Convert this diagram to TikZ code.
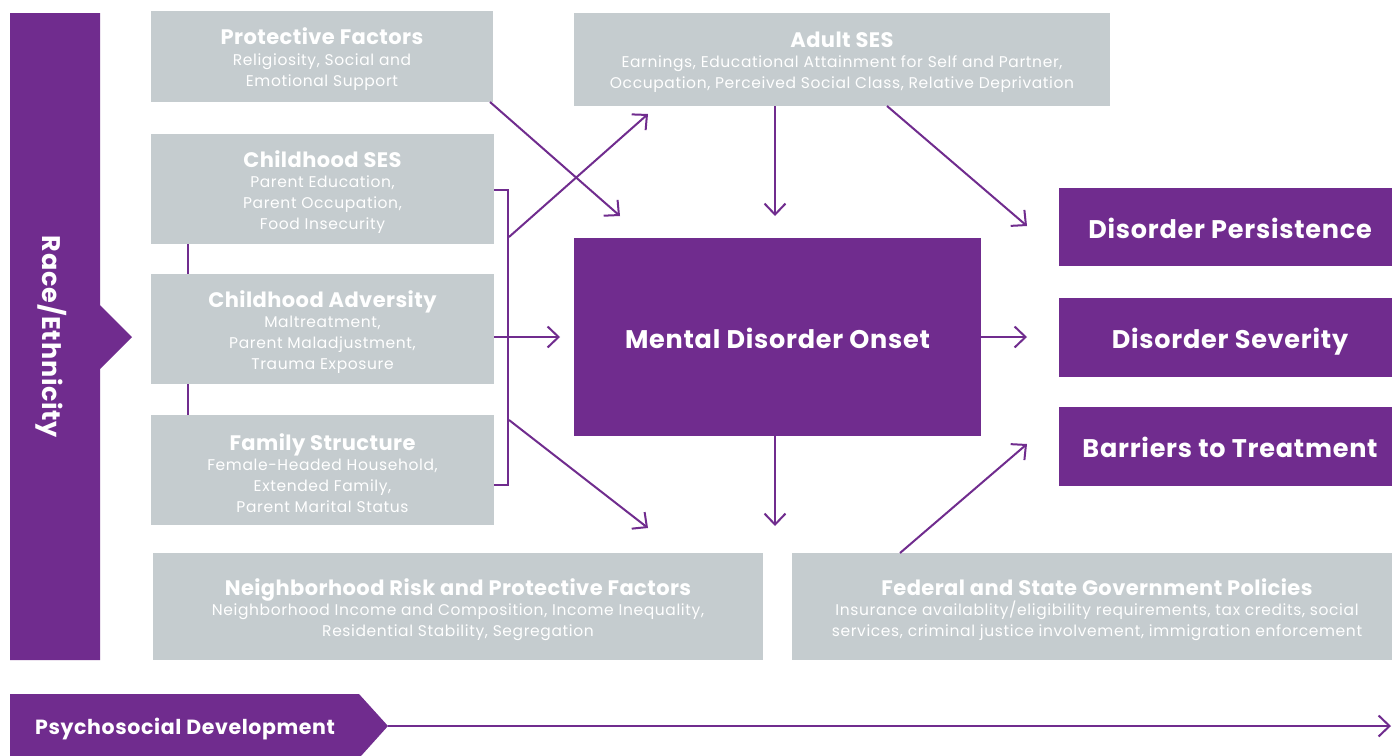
\documentclass[tikz,border=0pt]{standalone}
\usepackage{fontspec}
\setmainfont{Poppins}
\usetikzlibrary{arrows.meta}
\definecolor{purp}{RGB}{112,44,142}
\definecolor{boxgray}{RGB}{197,204,207}
\newcommand\ttl[1]{{\bfseries\fontsize{21}{21}\selectfont\addfontfeatures{LetterSpace=2}#1}}
\newcommand\bigbold{\bfseries\fontsize{25.5}{30}\selectfont\addfontfeatures{LetterSpace=3}}
\tikzset{
  graybox/.style={fill=boxgray, inner sep=0pt},
  boxtext/.style={inner sep=0pt, align=center, text=white,
    font=\fontsize{15.5}{21}\selectfont\addfontfeatures{LetterSpace=4}},
  purplebox/.style={fill=purp, inner sep=0pt, align=center, text=white,
    font=\bigbold, text height=22pt, text depth=0pt},
  conn/.style={draw=purp, line width=2pt},
  arr/.style={conn, -{Straight Barb[length=11pt,width=21pt]}},
}
\begin{document}
\begin{tikzpicture}[x=1pt,y=-1pt]
\useasboundingbox[fill=white] (0,0) rectangle (1392,755);

% Race/Ethnicity bar
\fill[purp] (10,13) -- (100,13) -- (100,305) -- (132,337) -- (100,369) -- (100,660) -- (10,660) -- cycle;
\node[text=white, font=\bigbold, rotate=-90] (race) at (51,337) {Race/Ethnicity};

% left gray boxes
\node[graybox, minimum width=342pt, minimum height=91pt] (pf) at (322,56.5) {};
\node[boxtext] (pfT) at ([yshift=-3pt]pf.center)
  {\ttl{Protective Factors}\\Religiosity, Social and\\Emotional Support};
\node[graybox, minimum width=343pt, minimum height=110pt] (ses) at (322.5,189) {};
\node[boxtext] (sesT) at ([yshift=-3.5pt]ses.center)
  {\ttl{Childhood SES}\\[-1pt]Parent Education,\\Parent Occupation,\\Food Insecurity};
\node[graybox, minimum width=343pt, minimum height=110pt] (adv) at (322.5,329) {};
\node[boxtext] (advT) at ([yshift=-3.5pt]adv.center)
  {\ttl{Childhood Adversity}\\[-1pt]Maltreatment,\\Parent Maladjustment,\\Trauma Exposure};
\node[graybox, minimum width=343pt, minimum height=110pt] (fam) at (322.5,470) {};
\node[boxtext] (famT) at ([yshift=-3.5pt]fam.center)
  {\ttl{Family Structure}\\[-1pt]Female-Headed Household,\\Extended Family,\\Parent Marital Status};

% top and bottom gray boxes
\node[graybox, minimum width=536pt, minimum height=93pt] (adult) at (842,59.5) {};
\node[boxtext] (adultT) at ([yshift=-3pt]adult.center)
  {\ttl{Adult SES}\\[-1pt]Earnings, Educational Attainment for Self and Partner,\\Occupation, Perceived Social Class, Relative Deprivation};
\node[graybox, minimum width=610pt, minimum height=107pt] (nbh) at (458,606.5) {};
\node[boxtext] (nbhT) at ([yshift=-3pt]nbh.center)
  {\ttl{Neighborhood Risk and Protective Factors}\\[-1pt]Neighborhood Income and Composition, Income Inequality,\\Residential Stability, Segregation};
\node[graybox, minimum width=610pt, minimum height=107pt] (fed) at (1097,606.5) {};
\node[boxtext] (fedT) at ([yshift=-3pt]fed.center)
  {\ttl{Federal and State Government Policies}\\[-1pt]Insurance availablity/eligibility requirements, tax credits, social\\services, criminal justice involvement, immigration enforcement};

% purple boxes
\node[purplebox, minimum width=407pt, minimum height=198pt] (mdo) at (777.5,337) {Mental Disorder Onset};
\node[purplebox, minimum width=342pt, minimum height=78pt] (per) at (1230,227) {Disorder Persistence};
\node[purplebox, minimum width=342pt, minimum height=79pt] (sev) at (1230,337.5) {Disorder Severity};
\node[purplebox, minimum width=342pt, minimum height=79pt] (bar) at (1230,446.5) {Barriers to Treatment};

% connector coordinates
\coordinate (brT) at (508,190);
\coordinate (brB) at (508,485);
\coordinate (brUp) at (509,237);
\coordinate (brDn) at (509,420);
\coordinate (adultTip) at (648,114);
\coordinate (nbhTip) at (648,528);
\coordinate (pfStart) at (490,102);
\coordinate (pfTip) at (620,216);
\coordinate (mdoInTip) at (560,337);
\coordinate (adultDnTip) at (775,216);
\coordinate (adultRStart) at (887,106);
\coordinate (perTip) at (1027,226);
\coordinate (sevTip) at (1027,337);
\coordinate (mdoDnTip) at (775,526);
\coordinate (fedStart) at (900,553);
\coordinate (barTip) at (1027,444);
\coordinate (psyTip) at (388,726);
\coordinate (timeTip) at (1391,726);

% left link lines
\draw[conn] (ses.south -| 188,0) -- (adv.north -| 188,0);
\draw[conn] (adv.south -| 188,0) -- (fam.north -| 188,0);

% bracket
\draw[conn] (ses.east |- brT) -- (brT) -- (brB) -- (fam.east |- brB);

% arrows
\draw[arr] (brUp) -- (adultTip);
\draw[arr] (brDn) -- (nbhTip);
\draw[arr] (adv.east |- mdo.west) -- (mdoInTip);
\draw[arr] (pfStart) -- (pfTip);
\draw[arr] (adult.south -| adultDnTip) -- (adultDnTip);
\draw[arr] (adultRStart) -- (perTip);
\draw[arr] (mdo.east) -- (sevTip);
\draw[arr] (mdo.south -| mdoDnTip) -- (mdoDnTip);
\draw[arr] (fedStart) -- (barTip);

% psychosocial development
\fill[purp] (10,694) -- (359,694) -- (psyTip) -- (361,756) -- (10,756) -- cycle;
\node[anchor=west, inner sep=0pt, text=white, text height=15pt, text depth=0pt,
  font=\bfseries\fontsize{20.5}{24}\selectfont\addfontfeatures{LetterSpace=3}] (psy) at (35,727) {Psychosocial Development};
\draw[arr] (psyTip) -- (timeTip);
\end{tikzpicture}
\end{document}
